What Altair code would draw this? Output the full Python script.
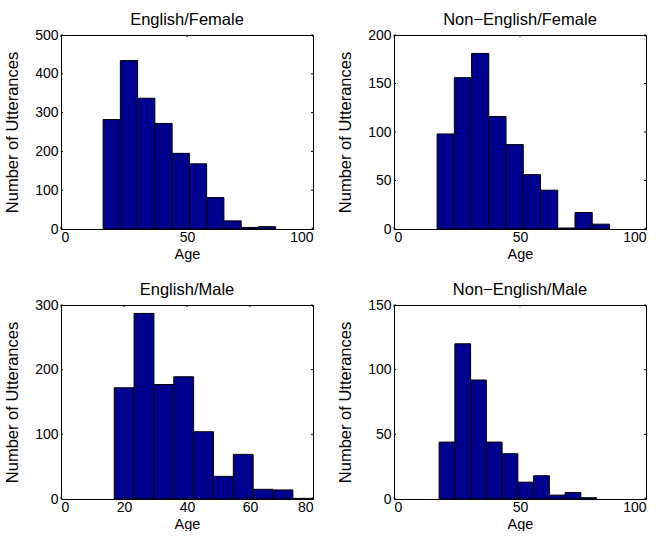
import altair as alt
import pandas as pd

# Age histograms of utterances, split by language group and gender
titles = ["English/Female", "Non\u2212English/Female", "English/Male", "Non\u2212English/Male"]

# bin edges (years) for each panel, ten bins each
edges_en_f = [16.7, 23.55, 30.4, 37.25, 44.1, 50.95, 57.8, 64.65, 71.5, 78.35, 85.2]
edges_ne_f = [17.1, 23.94, 30.78, 37.62, 44.46, 51.3, 58.14, 64.98, 71.82, 78.66, 85.5]
edges_en_m = [16.9, 23.2, 29.5, 35.8, 42.1, 48.4, 54.7, 61.0, 67.3, 73.6, 79.9]
edges_ne_m = [17.9, 24.15, 30.4, 36.65, 42.9, 49.15, 55.4, 61.65, 67.9, 74.15, 80.4]

# number of utterances in each bin
counts_en_f = [282, 434, 337, 272, 195, 168, 81, 21, 4, 6]
counts_ne_f = [98, 156, 181, 116, 87, 56, 40, 1, 17, 5]
counts_en_m = [172, 287, 177, 189, 104, 35, 69, 15, 14, 1]
counts_ne_m = [44, 120, 92, 44, 35, 13, 18, 3, 5, 1]

# axis ranges and tick labels
x_max = [100, 100, 80, 100]
x_ticks = [[0, 50, 100], [0, 50, 100], [0, 20, 40, 60, 80], [0, 50, 100]]
y_max = [500, 200, 300, 150]
y_ticks = [[0, 100, 200, 300, 400, 500], [0, 50, 100, 150, 200],
           [0, 100, 200, 300], [0, 50, 100, 150]]

FONT = "Liberation Sans"
W, H = 252, 194
TICK = 2
BAR = "#00008F"


def panel(title, edges, counts, xmax, xt, ymax, yt):
    df = pd.DataFrame({"lo": edges[:-1], "hi": edges[1:], "n": counts})
    xs = alt.Scale(domain=[0, xmax], nice=False, zero=False)
    ys = alt.Scale(domain=[0, ymax], nice=False)
    x_axis = alt.Axis(values=xt, title="Age", format="d", titleX=W / 2, titleY=29,
                      titleBaseline="alphabetic", labelPadding=1, titleFontSize=14.5)
    y_axis = alt.Axis(values=yt, title="Number of Utterances", format="d",
                      titleX=-49, titleY=H / 2, titleBaseline="middle", labelPadding=3,
                      titleFontSize=16.5)

    bars = alt.Chart(df).mark_rect(fill=BAR, stroke="black", strokeWidth=1).encode(
        x=alt.X("lo:Q", scale=xs, axis=x_axis),
        x2="hi:Q",
        y=alt.Y("n:Q", scale=ys, axis=y_axis),
        y2=alt.datum(0),
    )

    xtd = pd.DataFrame({"v": xt})
    ytd = pd.DataFrame({"v": yt})
    # tick marks drawn inside the frame on all four sides
    xb = alt.Chart(xtd).mark_rule(color="black", strokeWidth=1).encode(
        x=alt.X("v:Q", scale=xs, axis=x_axis), y=alt.value(H), y2=alt.value(H - TICK))
    xtop = alt.Chart(xtd).mark_rule(color="black", strokeWidth=1).encode(
        x=alt.X("v:Q", scale=xs, axis=x_axis), y=alt.value(0), y2=alt.value(TICK))
    yl = alt.Chart(ytd).mark_rule(color="black", strokeWidth=1).encode(
        y=alt.Y("v:Q", scale=ys, axis=y_axis), x=alt.value(0), x2=alt.value(TICK))
    yr = alt.Chart(ytd).mark_rule(color="black", strokeWidth=1).encode(
        y=alt.Y("v:Q", scale=ys, axis=y_axis), x=alt.value(W), x2=alt.value(W - TICK))

    return alt.layer(bars, xb, xtop, yl, yr).properties(
        width=W, height=H,
        title=alt.TitleParams(title, fontSize=16.5, font=FONT, fontWeight="normal",
                              anchor="middle", baseline="alphabetic", offset=-13, color="black"),
    )


p1 = panel(titles[0], edges_en_f, counts_en_f, x_max[0], x_ticks[0], y_max[0], y_ticks[0])
p2 = panel(titles[1], edges_ne_f, counts_ne_f, x_max[1], x_ticks[1], y_max[1], y_ticks[1])
p3 = panel(titles[2], edges_en_m, counts_en_m, x_max[2], x_ticks[2], y_max[2], y_ticks[2])
p4 = panel(titles[3], edges_ne_m, counts_ne_m, x_max[3], x_ticks[3], y_max[3], y_ticks[3])

chart = alt.concat(p1, p2, p3, p4, columns=2, spacing={"row": 76, "column": 81},
                   bounds="flush").properties(
    padding={"left": 3, "top": 11, "right": 0, "bottom": 0},
    background="white",
).configure_view(
    stroke="black", strokeWidth=1
).configure_axis(
    grid=False, domain=True, domainColor="black", domainWidth=1,
    ticks=False, labelFont=FONT, labelFontSize=14, labelColor="black",
    titleFont=FONT, titleFontWeight="normal", titleColor="black",
)

chart.save("out.html", embed_options={"renderer": "svg", "actions": False})
